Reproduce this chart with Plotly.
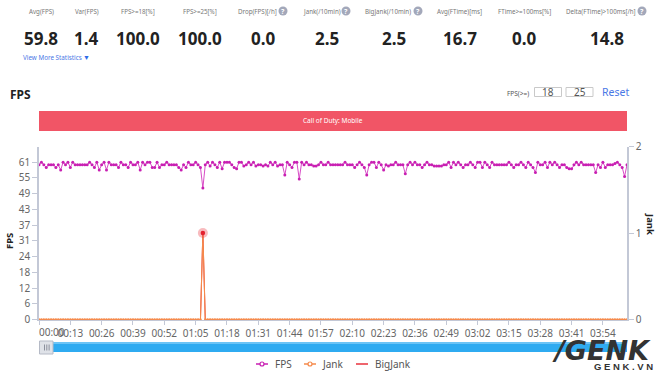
import plotly.graph_objects as go

fps = [
    60,61,60,59,60,60,60,59,60,58,
    61,60,61,59,61,60,60,60,60,60,
    60,61,60,59,61,58,60,61,58,61,
    60,60,60,59,61,60,60,59,61,60,
    60,61,58,61,60,61,61,59,59,61,
    59,60,60,61,60,60,60,60,59,58,
    60,59,61,60,60,61,60,59,51,60,
    61,59.5,61,60,59,61,58.5,61,61,61,
    60,59,58.5,61,61,59.5,60,61,60,61,
    59.5,60,60,59.5,60,59.5,61,60,61,59.5,
    60,60,56,61,60,59,61,61,54.5,61,
    60,61,60,60,59.5,59.5,60,61,60,60,
    61,60,60,60,60,60,60,61,60,60,
    60,59,60,61,60,59,56,60,61,61,
    59,61,60,58,60,59.5,60,60,61,60,
    60,60,56.5,60,61,60,61,60,60,59,
    60,61,60,60,59.5,59.5,59.5,59.5,60,60,
    61,59,61,60,61,60,59,60,60,61,
    60,59,61,61,59,61,60,59,61,60,
    60,60,60,60,60,61,60,59,60,60,
    61,60,59,61,60,59,57,61,60,60,
    61,59,61,60,61,60,59,60,60,59,
    58.5,58.5,60,61,60,61,60,60,60,60,
    60,57,60,59,61,59,60,60,60,60.5,
    61,60,59,55.5,60,
]
seconds = list(range(len(fps)))
jank = [0] * len(fps)
jank[68] = 1
bigjank = list(jank)
peak = [68]

x_tick_seconds = [13 * i for i in range(19)]
x_tick_labels = ["", "00:13", "00:26", "00:39", "00:52", "01:05", "01:18", "01:31", "01:44", "01:57",
                 "02:10", "02:23", "02:36", "02:49", "03:02", "03:15", "03:28", "03:41", "03:54"]
y_tick_values = [6.1 * k for k in range(11)]
y_tick_labels = ["0", "6", "12", "18", "24", "31", "37", "43", "49", "55", "61"]

stat_heads = [("Avg(FPS)", 41), ("Var(FPS)", 87), ("FPS>=18[%]", 138), ("FPS>=25[%]", 200),
              ("Drop(FPS)[/h]", 257), ("Jank(/10min)", 322), ("BigJank(/10min)", 388),
              ("Avg(FTime)[ms]", 459), ("FTime>=100ms[%]", 524), ("Delta(FTime)>100ms[/h]", 601)]
stat_values = [("59.8", 41), ("1.4", 87), ("100.0", 138), ("100.0", 200), ("0.0", 263),
               ("2.5", 327), ("2.5", 394), ("16.7", 460), ("0.0", 524), ("14.8", 607)]
help_icons = [283, 346, 418, 642]
legend_items = [("FPS", 262, 275, "#c81fb2"), ("Jank", 310, 322, "#f58a4b"), ("BigJank", 362, 375, "#e8323c")]

W, H = 660, 374
FONT = "Noto Sans"
def px(x): return x / W
def py(y): return 1 - y / H

annotations, shapes = [], []
def text(t, x, y, size=8, color="#666", anchor="center", bold=False, angle=0, family=FONT, italic=False):
    if bold: t = f"<b>{t}</b>"
    if italic: t = f"<i>{t}</i>"
    annotations.append(dict(text=t, x=px(x), y=py(y), xref="paper", yref="paper", xanchor=anchor, yanchor="middle",
                            showarrow=False, textangle=angle, font=dict(size=size, color=color, family=family),
                            borderpad=0, borderwidth=0))
def rect(x0, y0, x1, y1, fill, line=None, kind="rect", layer="above", lw=1):
    shapes.append(dict(type=kind, xref="paper", yref="paper", x0=px(x0), x1=px(x1), y0=py(y0), y1=py(y1),
                       fillcolor=fill, line=dict(color=line or fill, width=lw if line else 0), layer=layer))

for t, x in stat_heads:
    text(t, x, 11.5, size=6.2, color="#777")
for t, x in stat_values:
    text(t, x, 38.5, size=17, color="#222", bold=True)
for x in help_icons:
    rect(x - 4.5, 6.5, x + 4.5, 15.5, "#a3a8ba", kind="circle")
    text("?", x, 11, size=7, color="#fff", bold=True)

text("View More Statistics", 23, 58, size=6.3, color="#4a78e6", anchor="left")
text("▼", 87, 57.5, size=7, color="#2f6be8")
text("FPS", 10, 94, size=12, color="#222", anchor="left", bold=True)
text("FPS(>=)", 507, 93.5, size=6.5, color="#555", anchor="left")
rect(534.5, 87.5, 561.5, 96.5, "#fff", "#c9c9c9")
rect(566, 87.5, 593, 96.5, "#fff", "#c9c9c9")
text("18", 548, 92, size=10, color="#555")
text("25", 580, 92, size=10, color="#555")
text("Reset", 602, 92, size=10.5, color="#4a78e6", anchor="left")

rect(39, 111, 627, 131, "#f15566")
text("Call of Duty: Mobile", 333, 121, size=6.5, color="#fff")

text("FPS", 9, 241, size=9.5, color="#222", bold=True, angle=-90)
text("Jank", 650, 224, size=9.5, color="#222", bold=True, angle=90)
text("00:00", 39, 332, size=10, color="#666", anchor="left")

# range slider band
rect(39, 342, 627, 352, "#2fabf1")
rect(39, 342, 627, 344, "#6cc4f6")
rect(39.5, 341, 53, 354, "#dfe2e8", "#b5bac6")
for bx in (44, 46.3, 48.6):
    rect(bx, 344.5, bx + 1, 350.5, "#8a8f9c")

# legend
for name, cx, tx, col in legend_items:
    rect(cx - 6, 364, cx + 6, 364.01, col, col, kind="line", lw=1.5)
    if name != "BigJank":
        rect(cx - 2, 362, cx + 2, 366, "#fff", col, kind="circle", lw=1.2)
    text(name, tx, 364, size=10, color="#555", anchor="left")

# watermark
text("/GENK", 552, 350, size=27, color="#333", anchor="left", bold=True, italic=True, family="DejaVu Sans")
text("G E N K . V N", 623, 366.5, size=9.5, color="#333", bold=True, family="Liberation Sans")

AX = "#c3c8d6"
fig = go.Figure()
fig.add_trace(go.Scatter(x=seconds, y=fps, name="FPS", mode="lines+markers", yaxis="y",
                         line=dict(color="#d84cc6", width=1), marker=dict(color="#c81fb2", size=3), cliponaxis=False))
fig.add_trace(go.Scatter(x=seconds, y=bigjank, name="BigJank", mode="lines", yaxis="y2",
                         line=dict(color="#e8323c", width=1), cliponaxis=False))
fig.add_trace(go.Scatter(x=seconds, y=jank, name="Jank", mode="lines+markers", yaxis="y2",
                         line=dict(color="#f58a4b", width=1.1), marker=dict(color="#f58a4b", size=2.5),
                         cliponaxis=False))
fig.add_trace(go.Scatter(x=peak, y=[jank[i] for i in peak], mode="markers", yaxis="y2",
                         marker=dict(color="rgba(235,60,70,0.35)", size=10), hoverinfo="skip", cliponaxis=False))
fig.add_trace(go.Scatter(x=peak, y=[bigjank[i] for i in peak], mode="markers", yaxis="y2",
                         marker=dict(color="#e3202e", size=4.5), hoverinfo="skip", cliponaxis=False))

fig.update_layout(
    width=W, height=H, margin=dict(l=0, r=0, t=0, b=0, pad=0), autosize=False,
    paper_bgcolor="#fff", plot_bgcolor="#fff",
    font=dict(family=FONT, size=10, color="#666"),
    annotations=annotations, shapes=shapes,
    xaxis=dict(domain=[px(39), px(627)], range=[0, 244], showgrid=False, zeroline=False, showline=True, automargin=False,
               linecolor=AX, linewidth=1, ticks="outside", ticklen=4, tickcolor=AX,
               tickvals=x_tick_seconds, ticktext=x_tick_labels, tickangle=0,
               tickfont=dict(size=10, color="#666")),
    yaxis=dict(domain=[py(319.5), py(146.5)], range=[0, 67.1], showgrid=False, zeroline=False, showline=True, automargin=False,
               linecolor=AX, linewidth=1.5, ticks="outside", ticklen=5, tickcolor=AX,
               tickvals=y_tick_values, ticktext=y_tick_labels, tickfont=dict(size=10, color="#666")),
    yaxis2=dict(domain=[py(319.5), py(146.5)], range=[0, 2], overlaying="y", side="right", anchor="x", automargin=False,
                showgrid=False, zeroline=False, showline=True, linecolor=AX, linewidth=1.5,
                ticks="outside", ticklen=5, tickcolor=AX, tickvals=[0, 1, 2], tickfont=dict(size=10, color="#666")),
    showlegend=False,
)
fig.write_html("out.html", config={"displayModeBar": False}, post_script="document.body.style.margin='0';")
